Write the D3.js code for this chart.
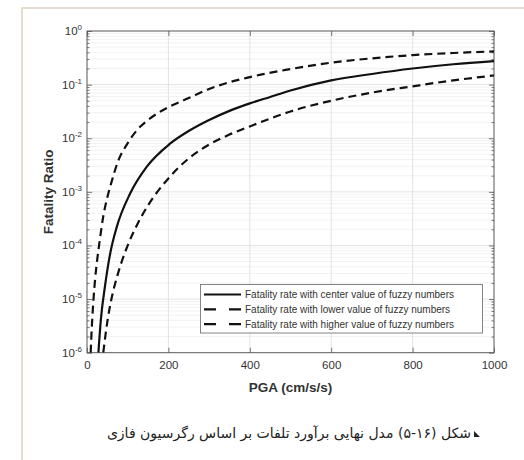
<!DOCTYPE html>
<html>
<head>
<meta charset="utf-8">
<script src="https://cdn.jsdelivr.net/npm/d3@7"></script>
<style>
  body { margin: 0; background: #fff; }
  svg { display: block; }
  .tick text { font-family: Arial, "Liberation Sans", sans-serif; }
</style>
</head>
<body>
<svg width="524" height="460"></svg>
<script>
// PGA values (cm/s/s) and fatality ratios
var pgaCenter = [28, 34, 44, 57, 73, 106, 147, 204, 253, 300, 350, 400, 450, 500, 600, 700, 800, 900, 1000];
var rateCenter = [1e-6, 4.1e-6, 1.7e-5, 7.1e-5, 2.2e-4, 9.3e-4, 2.95e-3, 7.9e-3, 0.0141, 0.0219, 0.0324, 0.0447, 0.0589, 0.0776, 0.120, 0.158, 0.200, 0.240, 0.275];

var pgaLower = [40, 50, 60, 75, 100, 125, 150, 200, 250, 300, 350, 400, 500, 600, 700, 800, 900, 1000];
var rateLower = [1e-6, 3.8e-6, 1e-5, 2.8e-5, 1e-4, 2.6e-4, 5.6e-4, 1.78e-3, 4.2e-3, 7.6e-3, 0.0117, 0.0166, 0.0316, 0.050, 0.071, 0.093, 0.120, 0.148];

var pgaHigher = [9, 12, 16, 20, 25, 30, 40, 50, 60, 75, 100, 125, 150, 200, 250, 300, 400, 500, 600, 700, 800, 900, 1000];
var rateHigher = [1e-6, 3.2e-6, 1e-5, 2.4e-5, 5.4e-5, 1.05e-4, 3.5e-4, 7.9e-4, 1.5e-3, 3.5e-3, 8.1e-3, 0.0148, 0.0219, 0.038, 0.056, 0.083, 0.138, 0.195, 0.257, 0.309, 0.355, 0.389, 0.417];

var xTicks = [0, 200, 400, 600, 800, 1000];
var yExponents = [0, -1, -2, -3, -4, -5, -6];

var legendLabels = [
  "Fatality rate with center value of fuzzy numbers",
  "Fatality rate with lower value of fuzzy numbers",
  "Fatality rate with higher value of fuzzy numbers"
];
var caption = "شکل (۱۶-۵)  مدل نهایی برآورد تلفات بر اساس رگرسیون فازی";

var svg = d3.select("svg");

// page frame
svg.append("path")
  .attr("d", "M22,460 V8 H524")
  .attr("fill", "none")
  .attr("stroke", "#e4ddd0")
  .attr("stroke-width", 2);

var pLeft = 87, pRight = 494, pTop = 31, pBottom = 352.7;

var x = d3.scaleLinear().domain([0, 1000]).range([pLeft, pRight]);
var y = d3.scaleLog().domain([1e-6, 1]).range([pBottom, pTop]);

// minor log values
var minors = [];
yExponents.forEach(function(e) {
  if (e === 0) return;
  for (var k = 2; k <= 9; k++) minors.push(k * Math.pow(10, e));
});

// grid
var grid = svg.append("g");
grid.selectAll(".minor").data(minors).enter().append("line")
  .attr("x1", pLeft).attr("x2", pRight)
  .attr("y1", function(d) { return y(d); }).attr("y2", function(d) { return y(d); })
  .attr("stroke", "#efefef").attr("stroke-width", 0.8);
grid.selectAll(".hmaj").data(yExponents).enter().append("line")
  .attr("x1", pLeft).attr("x2", pRight)
  .attr("y1", function(d) { return y(Math.pow(10, d)); }).attr("y2", function(d) { return y(Math.pow(10, d)); })
  .attr("stroke", "#dcdcdc").attr("stroke-width", 0.8);
grid.selectAll(".vmaj").data(xTicks).enter().append("line")
  .attr("y1", pTop).attr("y2", pBottom)
  .attr("x1", function(d) { return x(d); }).attr("x2", function(d) { return x(d); })
  .attr("stroke", "#dcdcdc").attr("stroke-width", 0.8);

// axes with inward ticks
var decadeVals = yExponents.map(function(e) { return Math.pow(10, e); });
function styleAxis(g) {
  g.select(".domain").remove();
  g.selectAll(".tick line").attr("stroke", "#555").attr("stroke-width", 0.8);
}
svg.append("g").attr("transform", "translate(0," + pBottom + ")")
  .call(d3.axisBottom(x).tickValues(xTicks).tickSize(-5).tickFormat(function(d) { return d; }))
  .call(styleAxis)
  .call(function(g) {
    g.selectAll(".tick text").attr("y", 8).attr("font-size", 11.5).attr("fill", "#333");
  });
svg.append("g").attr("transform", "translate(0," + pTop + ")")
  .call(d3.axisTop(x).tickValues(xTicks).tickSize(-5).tickFormat(""))
  .call(styleAxis);
svg.append("g").attr("transform", "translate(" + pLeft + ",0)")
  .call(d3.axisLeft(y).tickValues(decadeVals).tickSize(-5).tickFormat(""))
  .call(styleAxis);
svg.append("g").attr("transform", "translate(" + pLeft + ",0)")
  .call(d3.axisLeft(y).tickValues(minors).tickSize(-2.5).tickFormat(""))
  .call(styleAxis);
svg.append("g").attr("transform", "translate(" + pRight + ",0)")
  .call(d3.axisRight(y).tickValues(decadeVals).tickSize(-5).tickFormat(""))
  .call(styleAxis);
svg.append("g").attr("transform", "translate(" + pRight + ",0)")
  .call(d3.axisRight(y).tickValues(minors).tickSize(-2.5).tickFormat(""))
  .call(styleAxis);

// box
svg.append("rect")
  .attr("x", pLeft).attr("y", pTop)
  .attr("width", pRight - pLeft).attr("height", pBottom - pTop)
  .attr("fill", "none").attr("stroke", "#555").attr("stroke-width", 0.9);

// y tick labels with superscript
var ylab = svg.append("g")
  .attr("font-family", "Arial, 'Liberation Sans', sans-serif")
  .attr("fill", "#333");
yExponents.forEach(function(e) {
  var t = ylab.append("text")
    .attr("x", pLeft - 5)
    .attr("y", y(Math.pow(10, e)) + 4)
    .attr("text-anchor", "end")
    .attr("font-size", 11.5);
  t.append("tspan").text("10");
  t.append("tspan").attr("dy", -5).attr("font-size", 8).text(String(e));
});

// axis titles
svg.append("text")
  .attr("x", (pLeft + pRight) / 2).attr("y", 392)
  .attr("text-anchor", "middle")
  .attr("font-family", "Arial, 'Liberation Sans', sans-serif")
  .attr("font-weight", "bold").attr("font-size", 13.5).attr("fill", "#333")
  .text("PGA (cm/s/s)");
svg.append("text")
  .attr("transform", "translate(53," + ((pTop + pBottom) / 2) + ") rotate(-90)")
  .attr("text-anchor", "middle")
  .attr("font-family", "Arial, 'Liberation Sans', sans-serif")
  .attr("font-weight", "bold").attr("font-size", 13.5).attr("fill", "#333")
  .text("Fatality Ratio");

// curves
svg.append("clipPath").attr("id", "plot")
  .append("rect").attr("x", pLeft).attr("y", pTop)
  .attr("width", pRight - pLeft).attr("height", pBottom - pTop);

var line = d3.line()
  .x(function(d) { return x(d[0]); })
  .y(function(d) { return y(d[1]); })
  .curve(d3.curveMonotoneX);

var series = [
  { pga: pgaCenter, rate: rateCenter, dash: null },
  { pga: pgaLower, rate: rateLower, dash: "8,5" },
  { pga: pgaHigher, rate: rateHigher, dash: "8,5" }
];

var curves = svg.append("g").attr("clip-path", "url(#plot)");
series.forEach(function(s) {
  curves.append("path")
    .datum(d3.zip(s.pga, s.rate))
    .attr("d", line)
    .attr("fill", "none")
    .attr("stroke", "#111")
    .attr("stroke-width", 2.2)
    .attr("stroke-dasharray", s.dash);
});

// legend
var lg = svg.append("g");
lg.append("rect")
  .attr("x", 200.5).attr("y", 284.5).attr("width", 282).attr("height", 48.5)
  .attr("fill", "#fff").attr("stroke", "#777").attr("stroke-width", 0.9);
legendLabels.forEach(function(label, i) {
  var yy = 294.5 + i * 14.8;
  lg.append("line")
    .attr("x1", 204).attr("x2", 241).attr("y1", yy).attr("y2", yy)
    .attr("stroke", "#111").attr("stroke-width", 2.2)
    .attr("stroke-dasharray", series[i].dash ? "12,13" : null);
  lg.append("text")
    .attr("x", 245).attr("y", yy + 3.5)
    .attr("font-family", "Arial, 'Liberation Sans', sans-serif")
    .attr("font-size", 10).attr("fill", "#333")
    .text(label);
});

// caption
svg.append("text")
  .attr("x", 471).attr("y", 438)
  .attr("direction", "rtl")
  .attr("text-anchor", "start")
  .attr("font-family", "'DejaVu Sans', sans-serif")
  .attr("font-size", 14).attr("fill", "#222")
  .text(caption);
svg.append("path")
  .attr("d", "M474,431 L474,437 L480,437 Z")
  .attr("fill", "#222");
</script>
</body>
</html>
